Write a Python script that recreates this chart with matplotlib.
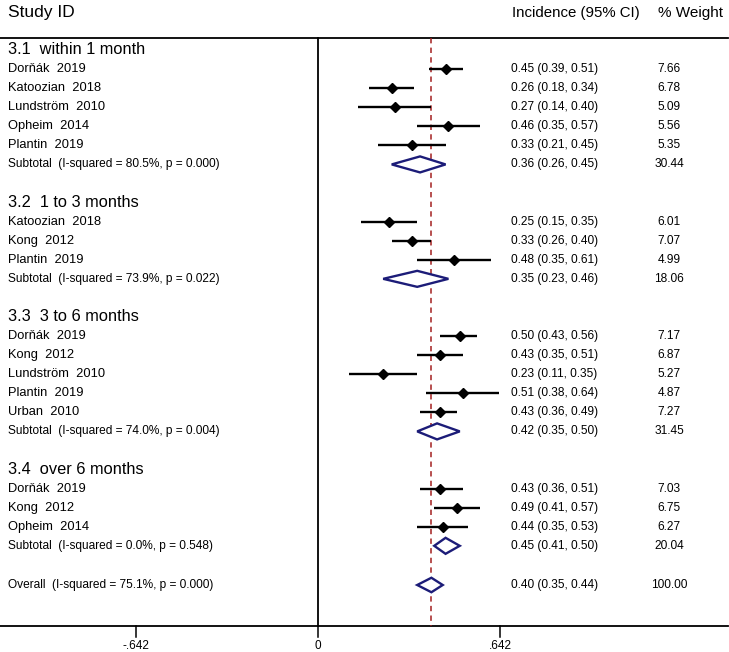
import matplotlib
matplotlib.use('Agg')
import matplotlib.pyplot as plt
from matplotlib.patches import Polygon

plt.rcParams['font.family'] = ['Liberation Sans', 'DejaVu Sans']

# --- data ---
group_labels = ['3.1  within 1 month', '3.2  1 to 3 months',
                '3.3  3 to 6 months', '3.4  over 6 months']
study_group = [0, 0, 0, 0, 0, 1, 1, 1, 2, 2, 2, 2, 2, 3, 3, 3]
study_names = ['Dorňák  2019', 'Katoozian  2018', 'Lundström  2010', 'Opheim  2014',
               'Plantin  2019',
               'Katoozian  2018', 'Kong  2012', 'Plantin  2019',
               'Dorňák  2019', 'Kong  2012', 'Lundström  2010', 'Plantin  2019',
               'Urban  2010',
               'Dorňák  2019', 'Kong  2012', 'Opheim  2014']
study_est = [0.45, 0.26, 0.27, 0.46, 0.33, 0.25, 0.33, 0.48,
             0.50, 0.43, 0.23, 0.51, 0.43, 0.43, 0.49, 0.44]
study_lo = [0.39, 0.18, 0.14, 0.35, 0.21, 0.15, 0.26, 0.35,
            0.43, 0.35, 0.11, 0.38, 0.36, 0.36, 0.41, 0.35]
study_hi = [0.51, 0.34, 0.40, 0.57, 0.45, 0.35, 0.40, 0.61,
            0.56, 0.51, 0.35, 0.64, 0.49, 0.51, 0.57, 0.53]
study_weight = [7.66, 6.78, 5.09, 5.56, 5.35, 6.01, 7.07, 4.99,
                7.17, 6.87, 5.27, 4.87, 7.27, 7.03, 6.75, 6.27]

sub_isq = ['80.5%', '73.9%', '74.0%', '0.0%']
sub_p = ['0.000', '0.022', '0.004', '0.548']
sub_est = [0.36, 0.35, 0.42, 0.45]
sub_lo = [0.26, 0.23, 0.35, 0.41]
sub_hi = [0.45, 0.46, 0.50, 0.50]
sub_weight = [30.44, 18.06, 31.45, 20.04]

overall_isq = '75.1%'
overall_p = '0.000'
overall_est, overall_lo, overall_hi = 0.40, 0.35, 0.44
overall_weight = 100.00

xticks = [-0.642, 0, 0.642]
xtick_labels = ['-.642', '0', '.642']

# --- layout (pixel -> data mapping) ---
W, H = 729, 652
x0_px, unit_px = 318.0, 283.5
row0_px, row_px = 50.0, 19.07


def px_x(p):
    return (p - x0_px) / unit_px


def px_y(p):
    return (p - row0_px) / row_px


fig = plt.figure(figsize=(W / 100, H / 100), dpi=100)
ax = fig.add_axes([0, 0, 1, 1])
ax.set_xlim(px_x(0), px_x(W))
ax.set_ylim(px_y(H), px_y(0))
ax.axis('off')

navy = '#1c1c78'
red = '#a31f1f'
name_x = px_x(8)
ci_x = px_x(511)
wt_x = px_x(669)
fs_name = 9.3
fs_head = 11.8
fs_val = 8.6

# header
ax.text(name_x, px_y(13), 'Study ID', fontsize=12.5, va='center', ha='left')
ax.text(px_x(512), px_y(13), 'Incidence (95% CI)', fontsize=10.8, va='center', ha='left')
ax.text(px_x(658), px_y(13), '% Weight', fontsize=11, va='center', ha='left')

top_y = px_y(38)
bot_y = px_y(626)
ax.plot([px_x(0), px_x(728)], [top_y, top_y], color='black', lw=1.3)
ax.plot([px_x(0), px_x(728)], [bot_y, bot_y], color='black', lw=1.3)
ax.plot([0, 0], [top_y, bot_y], color='black', lw=1.3)
ax.plot([overall_est, overall_est], [top_y, bot_y], color=red, lw=1.1,
        dashes=(3.5, 2.8))

for t, lab in zip(xticks, xtick_labels):
    ax.plot([t, t], [bot_y, px_y(637)], color='black', lw=1.1)
    ax.text(t, px_y(646), lab, fontsize=8.5, ha='center', va='center')


def diamond(est, lo, hi, y, half):
    poly = Polygon([(lo, y), (est, y - half), (hi, y), (est, y + half)],
                   closed=True, facecolor='white', edgecolor=navy, lw=1.7,
                   zorder=4)
    ax.add_patch(poly)


row = 0
for g, glab in enumerate(group_labels):
    ax.text(name_x, row, glab, fontsize=fs_head, va='center', ha='left')
    row += 1
    for i in range(len(study_names)):
        if study_group[i] != g:
            continue
        ax.text(name_x, row, study_names[i], fontsize=fs_name, va='center', ha='left')
        ax.plot([study_lo[i], study_hi[i]], [row, row], color='black', lw=1.7,
                solid_capstyle='butt', zorder=3)
        ax.plot(study_est[i], row, marker='D', color='black', markersize=5.6,
                zorder=5)
        ax.text(ci_x, row, f'{study_est[i]:.2f} ({study_lo[i]:.2f}, {study_hi[i]:.2f})',
                fontsize=fs_val, va='center', ha='left')
        ax.text(wt_x, row, f'{study_weight[i]:.2f}', fontsize=fs_val,
                va='center', ha='center')
        row += 1
    ax.text(name_x, row, f'Subtotal  (I-squared = {sub_isq[g]}, p = {sub_p[g]})',
            fontsize=fs_val, va='center', ha='left')
    diamond(sub_est[g], sub_lo[g], sub_hi[g], row, 0.42)
    ax.text(ci_x, row, f'{sub_est[g]:.2f} ({sub_lo[g]:.2f}, {sub_hi[g]:.2f})',
            fontsize=fs_val, va='center', ha='left')
    ax.text(wt_x, row, f'{sub_weight[g]:.2f}', fontsize=fs_val, va='center', ha='center')
    row += 2

ov_y = px_y(585)
ax.text(name_x, ov_y, f'Overall  (I-squared = {overall_isq}, p = {overall_p})',
        fontsize=fs_val, va='center', ha='left')
diamond(overall_est, overall_lo, overall_hi, ov_y, 0.38)
ax.text(ci_x, ov_y, f'{overall_est:.2f} ({overall_lo:.2f}, {overall_hi:.2f})',
        fontsize=fs_val, va='center', ha='left')
ax.text(wt_x, ov_y, f'{overall_weight:.2f}', fontsize=fs_val, va='center', ha='center')

fig.savefig('out.png', dpi=100, facecolor='white')
